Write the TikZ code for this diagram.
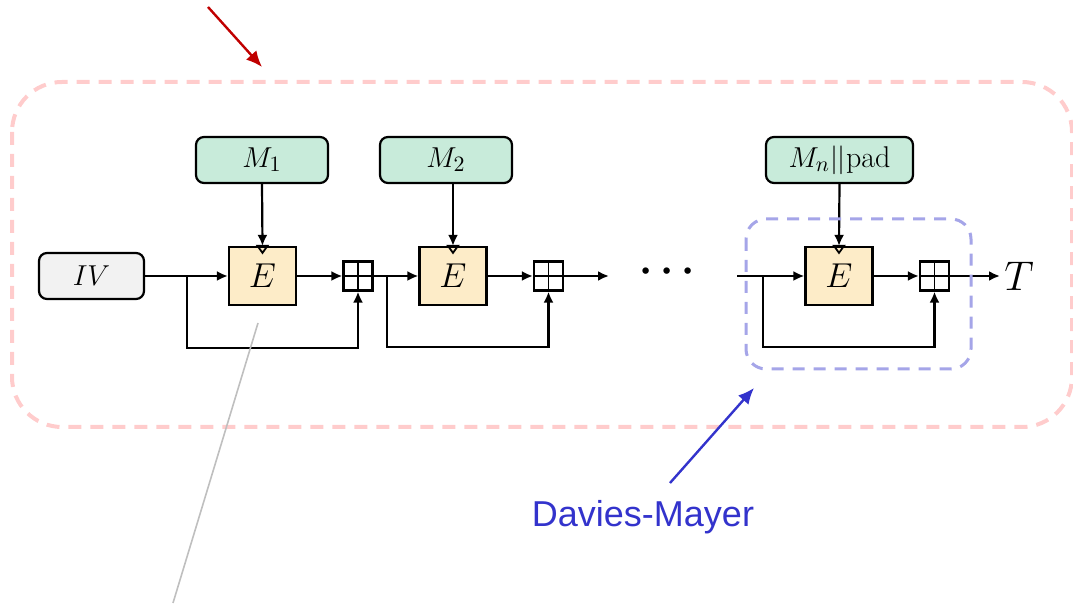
\documentclass[tikz,border=0pt]{standalone}
\usepackage{fontspec}
\newfontfamily\dmfont{Liberation Sans}
\usetikzlibrary{arrows.meta}

\definecolor{msgfill}{RGB}{200,235,218}
\definecolor{encfill}{RGB}{253,236,200}
\definecolor{ivfill}{RGB}{242,242,242}
\definecolor{mdpink}{RGB}{255,204,204}
\definecolor{dmblue}{RGB}{165,165,232}
\definecolor{dmtext}{RGB}{51,51,204}
\definecolor{arrred}{RGB}{192,0,0}

% small key marker on top of a cipher box
\newcommand{\keytri}[1]{\draw[line width=0.9pt] (#1.north) ++(-5,0) -- ++(10,0) -- ++(-5,7) -- cycle;}

\begin{document}
\begin{tikzpicture}[
		x=0.5pt, y=-0.5pt,
		>={Latex[length=5.5pt,width=5pt]},
		m/.style = {rectangle, rounded corners=4pt, draw=black, fill=msgfill, line width=1.1pt, minimum width=66pt, minimum height=23pt, font=\fontsize{15}{17}\selectfont},
		b/.style = {rectangle, draw=black, fill=encfill, line width=1.1pt, minimum width=33.5pt, minimum height=29pt, font=\fontsize{17}{19}\selectfont},
		iv/.style = {rectangle, rounded corners=4pt, draw=black, fill=ivfill, line width=1.1pt, minimum width=52.5pt, minimum height=23pt, font=\fontsize{15}{17}\selectfont},
		p/.style = {rectangle, draw=black, line width=1.1pt, minimum size=14.5pt, inner sep=0pt,
			path picture={\draw[line width=0.8pt] (path picture bounding box.north) -- (path picture bounding box.south) (path picture bounding box.west) -- (path picture bounding box.east);}},
		r/.style = {->, line width=1.1pt}
		]
		\useasboundingbox (0,0) rectangle (1073,608);
		
		% outer construction
		\draw[mdpink, line width=2pt, dash pattern=on 6.5pt off 4.5pt, rounded corners=25pt] (12,82) rectangle (1072,427);
		\draw[arrred, line width=1.2pt, -{Latex[length=8pt,width=7pt]}] (208,7) -- (262,67);
		
		\node[iv]	(iv)	at	(91.5,276)	{$IV$};
		
		\node[m]	(m1)	at	(262,160)	{$M_1$};
		\node[b]	(e1)	at	(262.5,276)	{$E$};
		\node[p]	(p1)	at	(358,276)	{};
		\keytri{e1}
		\coordinate	(b1)	at	(187,276);
		\draw[r]	(iv.east)	to	(e1.west);
		\draw[r]	(m1.south)	to	(e1.north);
		\draw[r]	(e1.east)	to	(p1.west);
		\draw[r]	(b1)	-- ++(0,72)	-|	(p1.south);
		
		\node[m]	(m2)	at	(446,160)	{$M_2$};
		\node[b]	(e2)	at	(453,276)	{$E$};
		\node[p]	(p2)	at	(548.5,276)	{};
		\keytri{e2}
		\coordinate	(b2)	at	(387,276);
		\coordinate	(o2)	at	(609,276);
		\draw[r]	(p1.east)	to	(e2.west);
		\draw[r]	(e2.north |- m2.south)	to	(e2.north);
		\draw[r]	(e2.east)	to	(p2.west);
		\draw[r]	(b2)	-- ++(0,71)	-|	(p2.south);
		\draw[r]	(p2.east)	to	(o2);
		
		\node[font=\fontsize{22}{24}\selectfont\boldmath]	(dots)	at	(667,272)	{$\cdots$};
		
		\node[m, minimum width=73.5pt]	(m3)	at	(839.5,160)	{$M_n||\mathrm{pad}$};
		\node[b]	(e3)	at	(839,276)	{$E$};
		\node[p]	(p3)	at	(934.5,276)	{};
		\keytri{e3}
		\coordinate	(i3)	at	(737,276);
		\coordinate	(b3)	at	(763,276);
		\node[font=\fontsize{20}{22}\selectfont, anchor=west, inner sep=2pt]	(t)	at	(1000,276)	{$T$};
		\draw[r]	(i3)	to	(e3.west);
		\draw[r]	(m3.south)	to	(e3.north);
		\draw[r]	(e3.east)	to	(p3.west);
		\draw[r]	(b3)	-- ++(0,71)	-|	(p3.south);
		\draw[r]	(p3.east)	to	(t.west);
		
		% Davies-Mayer part
		\draw[dmblue, line width=1.5pt, dash pattern=on 6pt off 4.5pt, rounded corners=10pt] (746,219) rectangle (971,369);
		\node[text=dmtext, font=\dmfont\fontsize{18}{20}\selectfont]	(dm)	at	(643,517)	{Davies-Mayer};
		\draw[dmtext, line width=1.2pt, -{Latex[length=8pt,width=7pt]}] (670,483) -- (754,388);
		
		\draw[black!25, line width=0.8pt] (258,323) -- (173,603);
\end{tikzpicture}
\end{document}
